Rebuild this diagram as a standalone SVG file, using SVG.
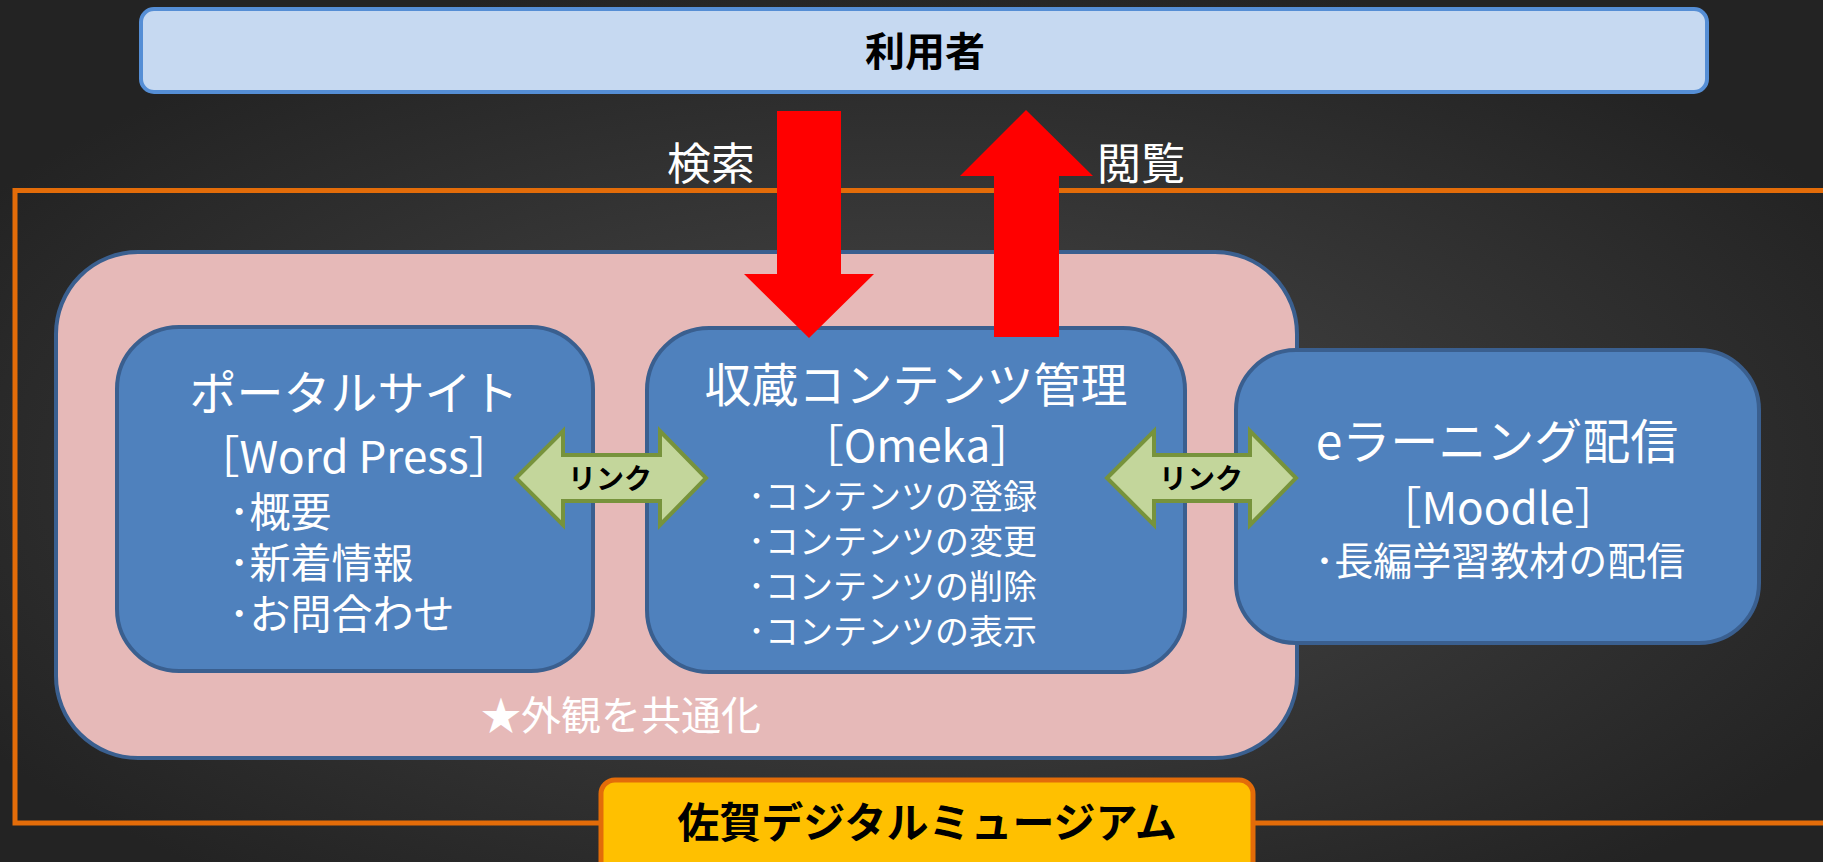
<svg xmlns="http://www.w3.org/2000/svg" width="1823" height="862" viewBox="0 0 1823 862">
<defs>
<radialGradient id="bg" cx="50%" cy="55%" r="60%">
<stop offset="0" stop-color="#4a4a4a"/>
<stop offset="1" stop-color="#232323"/>
</radialGradient>
<style>
.jp{font-family:"Noto Sans CJK JP","Noto Sans",sans-serif}
.w{fill:#ffffff}
.k{fill:#000000}
.blue{fill:#4f81bd;stroke:#3a5f8f;stroke-width:4}
.link{fill:#c3d69b;stroke:#77933c;stroke-width:4;stroke-linejoin:miter}
.red{fill:#ff0000}
.t1{font-size:47px}
.t2{font-size:44px}
.b1{font-size:41px}
.b2{font-size:34px}
</style>
</defs>
<rect x="0" y="0" width="1823" height="862" fill="url(#bg)"/>
<g id="frame">
<path d="M1830,190.5 L15,190.5 L15,823 L1830,823" fill="none" stroke="#e36c09" stroke-width="5"/>
</g>
<g id="user">
<rect x="141" y="9" width="1566" height="83" rx="13" fill="#c6d9f1" stroke="#558ed5" stroke-width="4"/>
<text x="925" y="66" text-anchor="middle" class="jp k" font-size="40" font-weight="bold">利用者</text>
</g>
<g id="common">
<rect x="56" y="252" width="1241" height="506" rx="82" fill="#e6b9b8" stroke="#3a5f8f" stroke-width="4"/>
<text x="621" y="730" text-anchor="middle" class="jp w" font-size="40">★外観を共通化</text>
</g>
<g id="portal">
<rect x="117" y="327" width="476" height="344" rx="62" class="blue"/>
<text x="354" y="410" text-anchor="middle" class="jp w t1">ポータルサイト</text>
<text x="354" y="473" text-anchor="middle" class="jp w t2">［Word Press］</text>
<text x="229" y="527" class="jp w b1">･概要</text>
<text x="229" y="578" class="jp w b1">･新着情報</text>
<text x="229" y="629" class="jp w b1">･お問合わせ</text>
</g>
<g id="contents">
<rect x="647" y="328" width="538" height="344" rx="62" class="blue"/>
<text x="916" y="402" text-anchor="middle" class="jp w t1">収蔵コンテンツ管理</text>
<text x="917" y="462" text-anchor="middle" class="jp w t2">［Omeka］</text>
<text x="748" y="509" class="jp w b2">･コンテンツの登録</text>
<text x="748" y="554" class="jp w b2">･コンテンツの変更</text>
<text x="748" y="599" class="jp w b2">･コンテンツの削除</text>
<text x="748" y="644" class="jp w b2">･コンテンツの表示</text>
</g>
<g id="elearning">
<rect x="1236" y="350" width="523" height="293" rx="60" class="blue"/>
<text x="1497" y="459" text-anchor="middle" class="jp w" font-size="48">eラーニング配信</text>
<text x="1498" y="524" text-anchor="middle" class="jp w t2">［Moodle］</text>
<text x="1500" y="575" text-anchor="middle" class="jp w" font-size="39">･長編学習教材の配信</text>
</g>
<g id="museum">
<rect x="601" y="780" width="652" height="110" rx="14" fill="#ffc000" stroke="#e36c09" stroke-width="5"/>
<text x="927" y="838" text-anchor="middle" class="jp k" font-size="42" font-weight="bold">佐賀デジタルミュージアム</text>
</g>
<g id="connectors">
<path class="red" d="M777,111 L841,111 L841,274 L874,274 L809,338 L744,274 L777,274 Z"/>
<path class="red" d="M1026,110 L1093,176 L1059,176 L1059,337 L994,337 L994,176 L960,176 Z"/>
<text x="711" y="180" text-anchor="middle" class="jp w" font-size="44">検索</text>
<text x="1141" y="180" text-anchor="middle" class="jp w" font-size="44">閲覧</text>
<path class="link" d="M516,478 L563,431 L563,455 L660,455 L660,431 L706,478 L660,525 L660,501 L563,501 L563,525 Z"/>
<text x="610" y="489" text-anchor="middle" class="jp k" font-size="28" font-weight="bold">リンク</text>
<path class="link" d="M1107,478 L1154,431 L1154,455 L1250,455 L1250,431 L1296,478 L1250,525 L1250,501 L1154,501 L1154,525 Z"/>
<text x="1201" y="489" text-anchor="middle" class="jp k" font-size="28" font-weight="bold">リンク</text>
</g>
</svg>
